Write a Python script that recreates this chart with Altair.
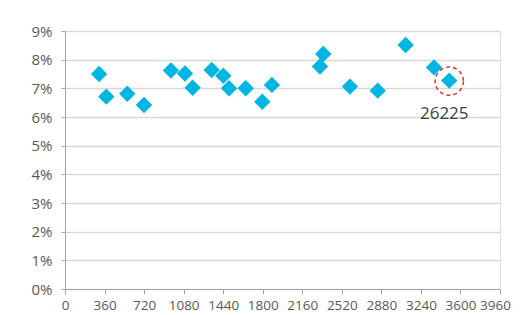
import altair as alt
import pandas as pd

# data
x_vals = [310, 376, 567, 719, 965, 1092, 1162, 1335, 1441, 1493, 1645, 1796,
          1884, 2321, 2351, 2594, 2847, 3101, 3359, 3498]
y_vals = [7.50, 6.71, 6.81, 6.42, 7.62, 7.52, 7.02, 7.64, 7.44, 7.00, 7.00, 6.53,
          7.12, 7.76, 8.20, 7.06, 6.92, 8.51, 7.73, 7.27]
x_ticks = [0, 360, 720, 1080, 1440, 1800, 2160, 2520, 2880, 3240, 3600, 3960]
y_ticks = [0, 0.01, 0.02, 0.03, 0.04, 0.05, 0.06, 0.07, 0.08, 0.09]
highlight_x = [3498]
highlight_y = [7.25]
highlight_label = ["26225"]

df = pd.DataFrame({"x": x_vals, "y": [v / 100 for v in y_vals], "kind": "pt",
                   "label": ""})
hl = pd.DataFrame({"x": highlight_x, "y": [v / 100 for v in highlight_y],
                   "kind": "hl", "label": highlight_label})
data = pd.concat([df, hl], ignore_index=True)

FONT = "Open Sans"
GRAY = "#595959"

xs = alt.Scale(domain=[0, 3960], nice=False, zero=True)
ys = alt.Scale(domain=[0, 0.09], nice=False)

xaxis = alt.Axis(values=x_ticks, format="d", title=None, grid=False,
                 labelFont=FONT, labelFontSize=13.5, labelColor=GRAY,
                 domainColor="#a6a6a6", tickColor="#a6a6a6", tickSize=5,
                 labelPadding=4, labelFlush=False, labelOverlap=False,
                 labelOffset=alt.ExprRef(expr="datum.value == 3960 ? -5 : 0"))
yaxis = alt.Axis(values=y_ticks, format=".0%", title=None, grid=True,
                 gridColor="#d9d9d9", gridWidth=1.5, labelFont=FONT,
                 labelFontSize=15, labelColor=GRAY, domainColor="#a6a6a6",
                 tickColor="#a6a6a6", tickSize=4, labelPadding=9,
                 labelOverlap=False)

base = alt.Chart(data).encode(
    x=alt.X("x:Q", scale=xs, axis=xaxis),
    y=alt.Y("y:Q", scale=ys, axis=yaxis),
)

points = base.transform_filter(alt.datum.kind == "pt").mark_point(
    shape="diamond", filled=True, size=270, color="#00B5E2", opacity=1)

hlbase = base.transform_filter(alt.datum.kind == "hl")
ring = hlbase.mark_point(shape="circle", filled=False, size=800,
                         stroke="#E8312F", strokeWidth=1.5,
                         strokeDash=[4, 3], opacity=1)
label = hlbase.mark_text(font=FONT, fontSize=17, color="#404040",
                         dy=33, dx=-5).encode(text="label:N")

chart = alt.layer(points, ring, label).properties(
    width=435, height=258,
    autosize=alt.AutoSizeParams(type="none"),
    padding={"left": 57, "top": 23, "right": 12, "bottom": 26},
).configure_view(strokeWidth=0).configure(background="white")

chart.save("out.html", embed_options={"renderer": "svg", "actions": False})
